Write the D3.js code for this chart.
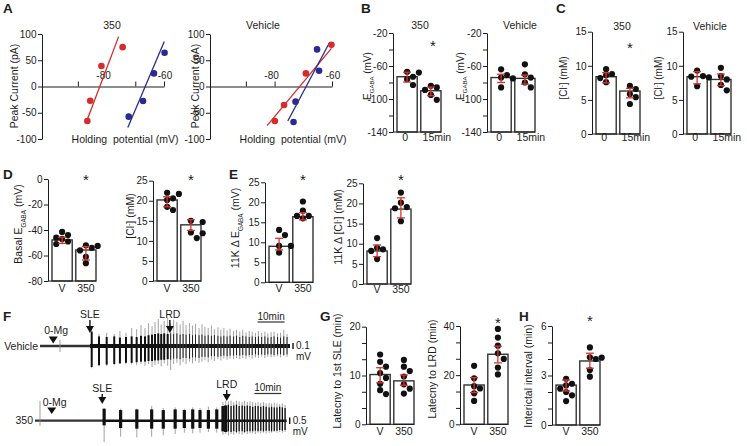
<!DOCTYPE html>
<html><head><meta charset="utf-8">
<script src="https://cdn.jsdelivr.net/npm/d3@7"></script>
<style>
body{margin:0;background:#fff}
svg{display:block}
</style></head><body>
<svg id="c" width="747" height="446"></svg>
<script>
// ================= DATA =================
// A: I-V relations (holding potential mV, peak current pA)
const ivYTicks = [-100, -50, 0, 50, 100];
const ivXLabels = [-80, -60];
const iv350RedV = [-86.7, -85.7, -81.8, -74.4];
const iv350RedI = [-65.6, -27, 39, 75];
const iv350BlueV = [-72.3, -67.3, -63.5, -59.8];
const iv350BlueI = [-57.4, -27.6, 25, 64.3];
const iv350RedFit = [[-87.2, -70], [-75.8, 95]];
const iv350BlueFit = [[-72.6, -78], [-59.9, 85.5]];
const ivVehRedV = [-79.9, -76.7, -69.1, -60.2];
const ivVehRedI = [-65.6, -35.2, 25, 79.5];
const ivVehBlueV = [-73.4, -72.7, -64.5, -65.2];
const ivVehBlueI = [-67.5, -28.9, 30, 70.7];
const ivVehRedFit = [[-82.6, -74.5], [-60.2, 72.6]];
const ivVehBlueFit = [[-75.4, -65.6], [-60.9, 83.3]];

// Bar charts
const catsTime = ["0", "15min"];
const catsDrug = ["V", "350"];

const bEgaba350Mean = [-73, -90];
const bEgaba350Err = [[-79.5, -67.5], [-96, -85.5]];
const bEgaba350Pts = [[-67, -68, -73, -76, -83], [-84, -86, -89, -95, -101]];
const bEgabaVehMean = [-74, -75];
const bEgabaVehErr = [[-80, -70], [-82, -71]];
const bEgabaVehPts = [[-64, -71, -74, -75, -86], [-58, -70, -74, -80, -86]];
const bTicks = [-140, -120, -100, -80, -60, -40, -20];
const bTickLabels = [-140, -100, -60, -20];

const cCl350Mean = [8.4, 6.3];
const cCl350Err = [[7.5, 9.0], [5.3, 6.7]];
const cCl350Pts = [[9.5, 8.8, 8.6, 8.2, 7.6], [7.05, 6.6, 5.85, 5.4, 4.4]];
const cClVehMean = [8.4, 8.0];
const cClVehErr = [[7.35, 9.15], [7.1, 8.8]];
const cClVehPts = [[9.3, 8.5, 8.4, 8.3, 7.0], [9.7, 8.5, 8.0, 7.2, 6.4]];
const cTicks = [0, 5, 10, 15];

const dEgabaMean = [-47.8, -55.7];
const dEgabaErr = [[-50.5, -45.7], [-63.5, -53]];
const dEgabaPts = [[-41.5, -44, -46, -47, -49, -51], [-52, -52.5, -54, -56, -61, -66]];
const dEgabaTicks = [-80, -60, -40, -20, 0];
const dClMean = [20.2, 14.0];
const dClErr = [[18.5, 21], [12.6, 15.3]];
const dClPts = [[22, 21.7, 20.6, 20.2, 18.5, 17.7], [15, 14.7, 12.1, 11.9, 10.7]];
const ticks0to25 = [0, 5, 10, 15, 20, 25];

const eEgabaMean = [9.0, 16.4];
const eEgabaErr = [[8.1, 11], [15.6, 17.4]];
const eEgabaPts = [[13.1, 11.8, 9.1, 9.1, 7.4], [20.2, 17.9, 16.6, 16.6, 16]];
const eClMean = [8.2, 18.6];
const eClErr = [[6.8, 9.7], [16.4, 21.4]];
const eClPts = [[11.4, 9.0, 8.6, 8.2, 6.2], [22.7, 20.2, 19.1, 18.8, 15.6]];

const gSleMean = [10.2, 8.9];
const gSleErr = [[8.5, 11.6], [8.0, 10.1]];
const gSlePts = [[14.3, 12.8, 11.8, 10.5, 9.5, 8.3, 7, 6.2], [13.2, 11.8, 10.9, 9.8, 8.2, 7.3, 6.3]];
const gSleTicks = [0, 10/3, 20/3, 10, 40/3, 50/3, 20];
const gSleLabels = [0, 10, 20];
const gLrdMean = [16, 28.5];
const gLrdErr = [[12.9, 19], [25, 31.8]];
const gLrdPts = [[23.8, 18.7, 15.5, 14.6, 12.6, 9.5], [38.8, 35.3, 32, 28.9, 26.6, 23.1, 20.3]];
const gLrdTicks = [0, 20/3, 40/3, 20, 80/3, 100/3, 40];
const gLrdLabels = [0, 20, 40];

const hIntMean = [2.42, 3.88];
const hIntErr = [[2.06, 2.73], [3.44, 4.35]];
const hIntPts = [[2.8, 2.5, 2.4, 2.2, 2.0, 1.8, 1.45], [4.7, 4.1, 4.08, 4.0, 3.33, 2.93]];
const hTicks = [0, 1, 2, 3, 4, 5, 6];
const hLabels = [0, 3, 6];

// F: field-potential traces (time in min, amplitude in mV)
const vehMarkerLabels = ["0-Mg", "SLE", "LRD"];
const vehMarkerT = [4.9, 18.5, 48.1];
const vehEventT = [7.4, 19.15, 21.85, 24.7, 27.5, 29.6, 31.85, 33.95, 35.8, 37.4, 38.9, 40.2, 41.5, 42.6, 43.8, 44.9, 46.0, 47.3, 48.4, 49.5, 50.7, 51.9, 53.0, 54.1, 55.4, 56.5, 57.6, 58.9, 60.0, 61.1, 62.3, 63.5, 64.6, 65.9, 67.0, 68.1, 69.3, 70.4, 71.7, 72.8, 74.0, 75.1, 76.3, 77.5, 78.6, 79.8, 80.9, 82.1, 83.3, 84.4, 85.6, 86.7, 88.0, 89.1, 90.3, 91.5];
const vehCoreUp = [0, 0.24, 0.16, 0.15, 0.16, 0.14, 0.15, 0.16, 0.15, 0.17, 0.16, 0.18, 0.19, 0.2, 0.21, 0.2, 0.21, 0.2, 0.21, 0.2, 0.21, 0.19, 0.2, 0.19, 0.2, 0.18, 0.19, 0.18, 0.19, 0.17, 0.18, 0.17, 0.18, 0.17, 0.16, 0.17, 0.16, 0.17, 0.16, 0.17, 0.15, 0.17, 0.16, 0.15, 0.16, 0.15, 0.16, 0.15, 0.16, 0.14, 0.15, 0.16, 0.15, 0.14, 0.16, 0.15];
const vehCoreDown = [0, 0.35, 0.32, 0.31, 0.3, 0.29, 0.28, 0.28, 0.27, 0.26, 0.26, 0.25, 0.25, 0.24, 0.24, 0.23, 0.23, 0.22, 0.23, 0.21, 0.21, 0.22, 0.2, 0.2, 0.21, 0.19, 0.19, 0.2, 0.18, 0.18, 0.19, 0.17, 0.17, 0.18, 0.17, 0.16, 0.17, 0.16, 0.16, 0.15, 0.16, 0.15, 0.16, 0.15, 0.15, 0.14, 0.15, 0.14, 0.15, 0.14, 0.14, 0.15, 0.14, 0.14, 0.15, 0.14];
const vehPeakUp = [0.1, 0.3, 0.2, 0.22, 0.2, 0.25, 0.22, 0.3, 0.28, 0.35, 0.3, 0.38, 0.33, 0.4, 0.45, 0.36, 0.42, 0.47, 0.38, 0.44, 0.4, 0.36, 0.42, 0.35, 0.38, 0.34, 0.37, 0.3, 0.36, 0.32, 0.3, 0.34, 0.28, 0.31, 0.27, 0.3, 0.26, 0.29, 0.25, 0.27, 0.24, 0.27, 0.23, 0.25, 0.24, 0.22, 0.25, 0.22, 0.24, 0.21, 0.23, 0.24, 0.21, 0.22, 0.27, 0.2];
const vehPeakDown = [0.1, 0.37, 0.34, 0.33, 0.32, 0.3, 0.3, 0.31, 0.32, 0.3, 0.33, 0.3, 0.35, 0.32, 0.3, 0.34, 0.29, 0.33, 0.4, 0.3, 0.28, 0.32, 0.27, 0.3, 0.26, 0.29, 0.25, 0.28, 0.26, 0.24, 0.27, 0.23, 0.25, 0.22, 0.24, 0.21, 0.23, 0.21, 0.22, 0.2, 0.22, 0.2, 0.21, 0.19, 0.21, 0.19, 0.2, 0.18, 0.2, 0.18, 0.19, 0.18, 0.17, 0.19, 0.17, 0.18];

const d350MarkerLabels = ["0-Mg", "SLE", "LRD"];
const d350MarkerT = [6.2, 24.9, 71];
const d350EventT = [1.85, 25.6, 31.7, 37.7, 43.2, 47.5, 51.9, 55.3, 58.4, 61.1, 64.2, 67.3, 69.6, 70.6, 71.6, 72.6, 73.6, 74.6, 75.6, 76.7, 77.6, 78.6, 79.6, 80.6, 81.6, 82.6, 83.6, 84.6, 85.6, 86.7, 87.6, 88.6, 89.6, 90.6, 91.6, 92.6];
const d350CoreUp = [0, 0.9, 0.8, 0.85, 0.85, 0.8, 0.85, 0.8, 0.85, 0.8, 0.8, 0.85, 1.1, 1.15, 1.2, 1.1, 1.15, 1.2, 1.1, 1.15, 1.1, 1.15, 1.1, 1.05, 1.1, 1.1, 1.05, 1.1, 1.05, 1.0, 1.05, 1.0, 1.0, 1.05, 1.0, 0.95];
const d350CoreDown = [0, 0.35, 0.55, 0.6, 0.6, 0.6, 0.6, 0.55, 0.6, 0.55, 0.6, 0.6, 0.8, 0.85, 0.8, 0.85, 0.8, 0.85, 0.8, 0.8, 0.85, 0.8, 0.8, 0.8, 0.75, 0.8, 0.75, 0.8, 0.75, 0.75, 0.8, 0.75, 0.75, 0.7, 0.75, 0.7];
const d350PeakUp = [1.5, 0.95, 0.9, 0.9, 1.1, 0.95, 1.0, 0.9, 1.0, 0.95, 1.05, 1.0, 1.4, 1.5, 1.45, 1.5, 1.4, 1.5, 1.45, 1.4, 1.5, 1.4, 1.45, 1.4, 1.35, 1.4, 1.35, 1.4, 1.3, 1.35, 1.3, 1.35, 1.3, 1.25, 1.3, 1.2];
const d350PeakDown = [0.4, 1.6, 1.2, 1.25, 1.2, 1.1, 1.0, 0.9, 0.95, 0.9, 0.85, 0.9, 1.05, 1.0, 1.1, 1.0, 1.05, 0.95, 1.0, 1.05, 0.95, 1.0, 0.95, 0.95, 1.0, 0.9, 0.95, 0.9, 0.95, 0.9, 0.9, 0.85, 0.9, 0.85, 0.9, 0.85];

// ================= DRAWING =================
const FONT = "'Liberation Sans', Arial, Helvetica, sans-serif";
const INK = "#1c1c1c", RED = "#d42b2b", BLUE = "#2b2b8f", ERR = "#d8352d";
const svg = d3.select("#c").attr("font-family", FONT);

function text(s, x, y, size, anchor = "middle", weight = "normal") {
  return svg.append("text").attr("x", x).attr("y", y).attr("font-size", size)
    .attr("text-anchor", anchor).attr("font-weight", weight).attr("fill", INK)
    .style("white-space", "pre").text(s);
}
function ylabel(parts, cx, cy, size) {
  const t = svg.append("text").attr("transform", `translate(${cx + size * 0.36},${cy}) rotate(-90)`)
    .attr("text-anchor", "middle").attr("font-size", size).attr("fill", INK);
  parts.forEach(([s, k]) => {
    const ts = t.append("tspan").text(s);
    if (k === "sub") ts.attr("font-size", size * 0.6).attr("baseline-shift", "sub");
    if (k === "sup") ts.attr("font-size", size * 0.62).attr("baseline-shift", "super");
  });
}
function styleAxis(sel) {
  sel.attr("font-family", FONT).attr("font-size", 10);
  sel.selectAll("text").attr("fill", INK);
  sel.selectAll("path,line").attr("stroke", INK).attr("stroke-width", 1);
}
const near = (a, list) => list.some(l => Math.abs(l - a) < 1e-6);

// ---------- panel letters ----------
[["A", 3, 13], ["B", 361, 13], ["C", 556, 13], ["D", 3, 179], ["E", 229, 179], ["F", 3, 321], ["G", 320, 321], ["H", 519, 321]]
  .forEach(([s, x, y]) => text(s, x, y, 13.5, "start", "bold"));

// ---------- A ----------
function drawIV(o) {
  const x = d3.scaleLinear().domain([-102.5, -60]).range([o.ax, o.ax + 122]);
  const y = d3.scaleLinear().domain([-100, 100]).range([139, 34]);
  svg.append("g").attr("transform", `translate(${o.ax},0)`)
    .call(d3.axisLeft(y).tickValues(ivYTicks).tickSize(4).tickPadding(1.5).tickSizeOuter(0).tickFormat(d => String(d)))
    .call(styleAxis);
  svg.append("g").attr("transform", `translate(0,${y(0)})`)
    .call(d3.axisTop(x).tickValues(o.xticks).tickSize(5).tickSizeOuter(0).tickFormat(""))
    .call(styleAxis);
  ivXLabels.forEach((v, i) => text(String(v), x(v) + (i === 0 ? -3 : 1), 79, 10));
  const line = d3.line().x(d => x(d[0])).y(d => y(d[1]));
  [[o.redFit, RED], [o.blueFit, BLUE]].forEach(([f, c]) =>
    svg.append("path").attr("d", line(f)).attr("stroke", c).attr("stroke-width", 1.3).attr("fill", "none"));
  [[o.redV, o.redI, RED], [o.blueV, o.blueI, BLUE]].forEach(([vs, is, c]) =>
    svg.append("g").selectAll("circle").data(vs).join("circle")
      .attr("cx", d => x(d)).attr("cy", (d, i) => y(is[i])).attr("r", 3.3).attr("fill", c));
  text(o.title, o.titleX, 29, 10.5);
  text("Holding  potential (mV)", o.ax + 83, 143, 10.5);
  ylabel([["Peak Current (pA)"]], o.ylX, 86, 10.5);
}
drawIV({ax: 42, xticks: [-90, -70, -60], title: "350", titleX: 112, ylX: 14,
  redV: iv350RedV, redI: iv350RedI, blueV: iv350BlueV, blueI: iv350BlueI, redFit: iv350RedFit, blueFit: iv350BlueFit});
drawIV({ax: 210, xticks: [-90, -80, -60], title: "Vehicle", titleX: 263, ylX: 195,
  redV: ivVehRedV, redI: ivVehRedI, blueV: ivVehBlueV, blueI: ivVehBlueI, redFit: ivVehRedFit, blueFit: ivVehBlueFit});

// ---------- bar panels ----------
function swarm(values, y, cx, r) {
  const pts = values.map(v => ({v, y: y(v)})).sort((a, b) => a.y - b.y);
  const placed = [];
  const offs = [0, 1, -1, 2, -2, 3, -3].map(k => k * r * 1.9);
  pts.forEach(d => {
    for (const o of offs) {
      const xx = cx + o;
      if (placed.every(p => Math.hypot(p.x - xx, p.y - d.y) >= 2 * r * 0.97)) { d.x = xx; break; }
    }
    if (d.x === undefined) d.x = cx;
    placed.push(d);
  });
  return placed;
}
function barPanel(o) {
  const y = d3.scaleLinear().domain(o.domain).range([o.yBot, o.yTop]);
  const x = d3.scaleBand().domain(o.cats).range([o.ax + 4, o.ax + 48]).paddingInner(0.15).paddingOuter(0);
  const g = svg.append("g");
  const base = y(o.domain[0]);
  g.selectAll("rect").data(o.cats).join("rect")
    .attr("x", d => x(d)).attr("width", x.bandwidth())
    .attr("y", (d, i) => y(o.mean[i])).attr("height", (d, i) => base - y(o.mean[i]))
    .attr("fill", "#fff").attr("stroke", "#333").attr("stroke-width", 1.4);
  o.pts.forEach((arr, i) => {
    const cx = x(o.cats[i]) + x.bandwidth() / 2;
    g.append("g").selectAll("circle").data(swarm(arr, y, cx, 3.1)).join("circle")
      .attr("cx", d => d.x).attr("cy", d => d.y).attr("r", 3.1).attr("fill", "#111");
  });
  o.err.forEach((e, i) => {
    const cx = x(o.cats[i]) + x.bandwidth() / 2;
    const eg = g.append("g").attr("stroke", ERR).attr("stroke-width", 1.3);
    eg.append("line").attr("x1", cx).attr("x2", cx).attr("y1", y(e[0])).attr("y2", y(e[1]));
    e.forEach(v => eg.append("line").attr("x1", cx - 4).attr("x2", cx + 4).attr("y1", y(v)).attr("y2", y(v)));
  });
  g.append("g").attr("transform", `translate(${o.ax},0)`)
    .call(d3.axisLeft(y).tickValues(o.ticks).tickSize(4).tickPadding(1.5).tickSizeOuter(0)
      .tickFormat(d => near(d, o.labels) ? String(Math.round(d)) : ""))
    .call(styleAxis);
  g.append("line").attr("x1", o.ax).attr("x2", x.range()[1]).attr("y1", base).attr("y2", base)
    .attr("stroke", INK).attr("stroke-width", 1);
  o.cats.forEach((c, i) => text(c, x(c) + x.bandwidth() / 2 + (c === "15min" ? 6 : (c === "0" ? -2 : 0)), o.xlY, 10.5));
  if (o.title) text(o.title, o.titleX, o.titleY, 10.5);
  if (o.star) text("*", x(o.cats[1]) + x.bandwidth() / 2 + (o.starDx || 0), o.starY, 15);
  ylabel(o.ylab, o.ylX, o.ylY, o.ylSize || 10.5);
}
const EG = (pre) => [[pre + "E"], ["GABA", "sub"], [" (mV)"]];
const CL = (pre) => [[pre + "[Cl"], ["-", "sup"], ["] (mM)"]];

// B
barPanel({ax: 393, yTop: 33, yBot: 132, domain: [-140, -20], ticks: bTicks, labels: bTickLabels, cats: catsTime,
  mean: bEgaba350Mean, err: bEgaba350Err, pts: bEgaba350Pts, xlY: 141, title: "350", titleX: 420, titleY: 29,
  star: true, starY: 51, starDx: 2, ylab: EG(""), ylX: 367, ylY: 76, ylSize: 10});
barPanel({ax: 487, yTop: 33, yBot: 132, domain: [-140, -20], ticks: bTicks, labels: bTickLabels, cats: catsTime,
  mean: bEgabaVehMean, err: bEgabaVehErr, pts: bEgabaVehPts, xlY: 141, title: "Vehicle", titleX: 520, titleY: 29,
  ylab: EG(""), ylX: 460, ylY: 76, ylSize: 10});
// C
barPanel({ax: 592, yTop: 31.7, yBot: 134, domain: [0, 15], ticks: cTicks, labels: cTicks, cats: catsTime,
  mean: cCl350Mean, err: cCl350Err, pts: cCl350Pts, xlY: 141, title: "350", titleX: 622, titleY: 30,
  star: true, starY: 53, starDx: 0, ylab: CL(""), ylX: 563, ylY: 78, ylSize: 10});
barPanel({ax: 683, yTop: 31.7, yBot: 134, domain: [0, 15], ticks: cTicks, labels: cTicks, cats: catsTime,
  mean: cClVehMean, err: cClVehErr, pts: cClVehPts, xlY: 141, title: "Vehicle", titleX: 710, titleY: 30,
  ylab: CL(""), ylX: 658, ylY: 78, ylSize: 10});
// D
barPanel({ax: 48, yTop: 179, yBot: 281, domain: [-80, 0], ticks: dEgabaTicks, labels: dEgabaTicks, cats: catsDrug,
  mean: dEgabaMean, err: dEgabaErr, pts: dEgabaPts, xlY: 292, star: true, starY: 185,
  ylab: EG("Basal "), ylX: 18, ylY: 224});
barPanel({ax: 153, yTop: 180.7, yBot: 281, domain: [0, 25], ticks: ticks0to25, labels: ticks0to25, cats: catsDrug,
  mean: dClMean, err: dClErr, pts: dClPts, xlY: 292, star: true, starY: 185,
  ylab: CL(""), ylX: 130, ylY: 216});
// E
barPanel({ax: 265, yTop: 182.3, yBot: 282.3, domain: [0, 25], ticks: ticks0to25, labels: ticks0to25, cats: catsDrug,
  mean: eEgabaMean, err: eEgabaErr, pts: eEgabaPts, xlY: 292, star: true, starY: 185,
  ylab: EG("11K Δ "), ylX: 235, ylY: 228});
barPanel({ax: 363, yTop: 183.3, yBot: 284, domain: [0, 25], ticks: ticks0to25, labels: ticks0to25, cats: catsDrug,
  mean: eClMean, err: eClErr, pts: eClPts, xlY: 293, star: true, starY: 185,
  ylab: CL("11K Δ "), ylX: 338, ylY: 227});
// G
barPanel({ax: 366, yTop: 326.7, yBot: 424.3, domain: [0, 20], ticks: gSleTicks, labels: gSleLabels, cats: catsDrug,
  mean: gSleMean, err: gSleErr, pts: gSlePts, xlY: 435,
  ylab: [["Latecny to 1st SLE (min)"]], ylX: 337, ylY: 371});
barPanel({ax: 460, yTop: 326, yBot: 424.3, domain: [0, 40], ticks: gLrdTicks, labels: gLrdLabels, cats: catsDrug,
  mean: gLrdMean, err: gLrdErr, pts: gLrdPts, xlY: 435, star: true, starY: 328,
  ylab: [["Latecny to LRD (min)"]], ylX: 432, ylY: 369});
// H
barPanel({ax: 552, yTop: 326, yBot: 425, domain: [0, 6], ticks: hTicks, labels: hLabels, cats: catsDrug,
  mean: hIntMean, err: hIntErr, pts: hIntPts, xlY: 435, star: true, starY: 326,
  ylab: [["Interictal interval (min)"]], ylX: 528, ylY: 376});

// ---------- F traces ----------
function drawTrace(o) {
  const x = d3.scaleLinear().domain([0, o.tEnd]).range([o.x0, o.x1]);
  const y = d3.scaleLinear().domain([-1, 1]).range([o.base + o.pxPerMv, o.base - o.pxPerMv]);
  const g = svg.append("g");
  const sleT = o.markerT[1], lrdT = o.markerT[2];
  g.append("line").attr("x1", x(0)).attr("x2", x(sleT)).attr("y1", y(0)).attr("y2", y(0))
    .attr("stroke", "#333").attr("stroke-width", o.baseW0);
  g.append("line").attr("x1", x(sleT)).attr("x2", x(o.tEnd)).attr("y1", y(0)).attr("y2", y(0))
    .attr("stroke", "#111").attr("stroke-width", o.baseW1);
  // grey extremes
  g.append("g").selectAll("line").data(o.t).join("line")
    .attr("x1", d => x(d)).attr("x2", d => x(d))
    .attr("y1", (d, i) => y(o.peakUp[i])).attr("y2", (d, i) => y(-o.peakDown[i]))
    .attr("stroke", "#8a8a8a").attr("stroke-width", 0.8);
  // black cores
  g.append("g").selectAll("line").data(o.t).join("line")
    .attr("x1", d => x(d)).attr("x2", d => x(d))
    .attr("y1", (d, i) => y(o.coreUp[i])).attr("y2", (d, i) => y(-o.coreDown[i]))
    .attr("stroke", "#111").attr("stroke-width", d => d < lrdT ? o.wEarly : o.wLate);
  // markers
  o.markerLabels.forEach((lab, i) => {
    const mx = x(o.markerT[i]), L = o.mlay[i];
    if (i === 0) {
      text(lab, mx + 3, L[0], 10.5);
      g.append("path").attr("d", `M${mx - 4.5},${L[1]}L${mx + 4.5},${L[1]}L${mx},${L[2]}Z`).attr("fill", "#111");
    } else {
      text(lab, mx, L[0], 10.5);
      g.append("line").attr("x1", mx).attr("x2", mx).attr("y1", L[1]).attr("y2", L[2] - 5)
        .attr("stroke", "#111").attr("stroke-width", 1.4);
      g.append("path").attr("d", `M${mx - 4},${L[2] - 7}L${mx + 4},${L[2] - 7}L${mx},${L[2]}Z`).attr("fill", "#111");
    }
  });
  // time scale bar
  const t1 = o.tEnd - 2, t0 = t1 - 10;
  g.append("line").attr("x1", x(t0)).attr("x2", x(t1)).attr("y1", o.sbY).attr("y2", o.sbY)
    .attr("stroke", "#333").attr("stroke-width", 1.2);
  text("10min", (x(t0) + x(t1)) / 2, o.sbY - 2.5, 10);
  // amplitude bar
  g.append("line").attr("x1", o.x1 + 3).attr("x2", o.x1 + 3)
    .attr("y1", y(o.ampBar / 2)).attr("y2", y(-o.ampBar / 2)).attr("stroke", "#111").attr("stroke-width", 1.4);
  text(String(o.ampBar), o.x1 + 6, o.base + 3, 10, "start");
  text("mV", o.x1 + 6, o.base + 14, 10, "start");
  text(o.name, o.nameX, o.base + 3.5, 10.5, "end");
}
drawTrace({name: "Vehicle", nameX: 38, x0: 40, x1: 290, tEnd: 92.6, base: 346, pxPerMv: 60,
  t: vehEventT, coreUp: vehCoreUp, coreDown: vehCoreDown, peakUp: vehPeakUp, peakDown: vehPeakDown,
  markerLabels: vehMarkerLabels, markerT: vehMarkerT, mlay: [[334, 336.5, 343.5], [318, 320, 333], [318, 320, 333]],
  wEarly: 2.0, wLate: 0.9, baseW0: 2.6, baseW1: 4.2, sbY: 322, ampBar: 0.1});
drawTrace({name: "350", nameX: 33, x0: 35, x1: 286.7, tEnd: 93.2, base: 420.7, pxPerMv: 13.3,
  t: d350EventT, coreUp: d350CoreUp, coreDown: d350CoreDown, peakUp: d350PeakUp, peakDown: d350PeakDown,
  markerLabels: d350MarkerLabels, markerT: d350MarkerT, mlay: [[406, 407.5, 414], [392, 394, 404], [388, 390, 401]],
  wEarly: 3.2, wLate: 1.3, baseW0: 2.2, baseW1: 2.4, sbY: 393.5, ampBar: 0.5});
</script>
</body></html>
